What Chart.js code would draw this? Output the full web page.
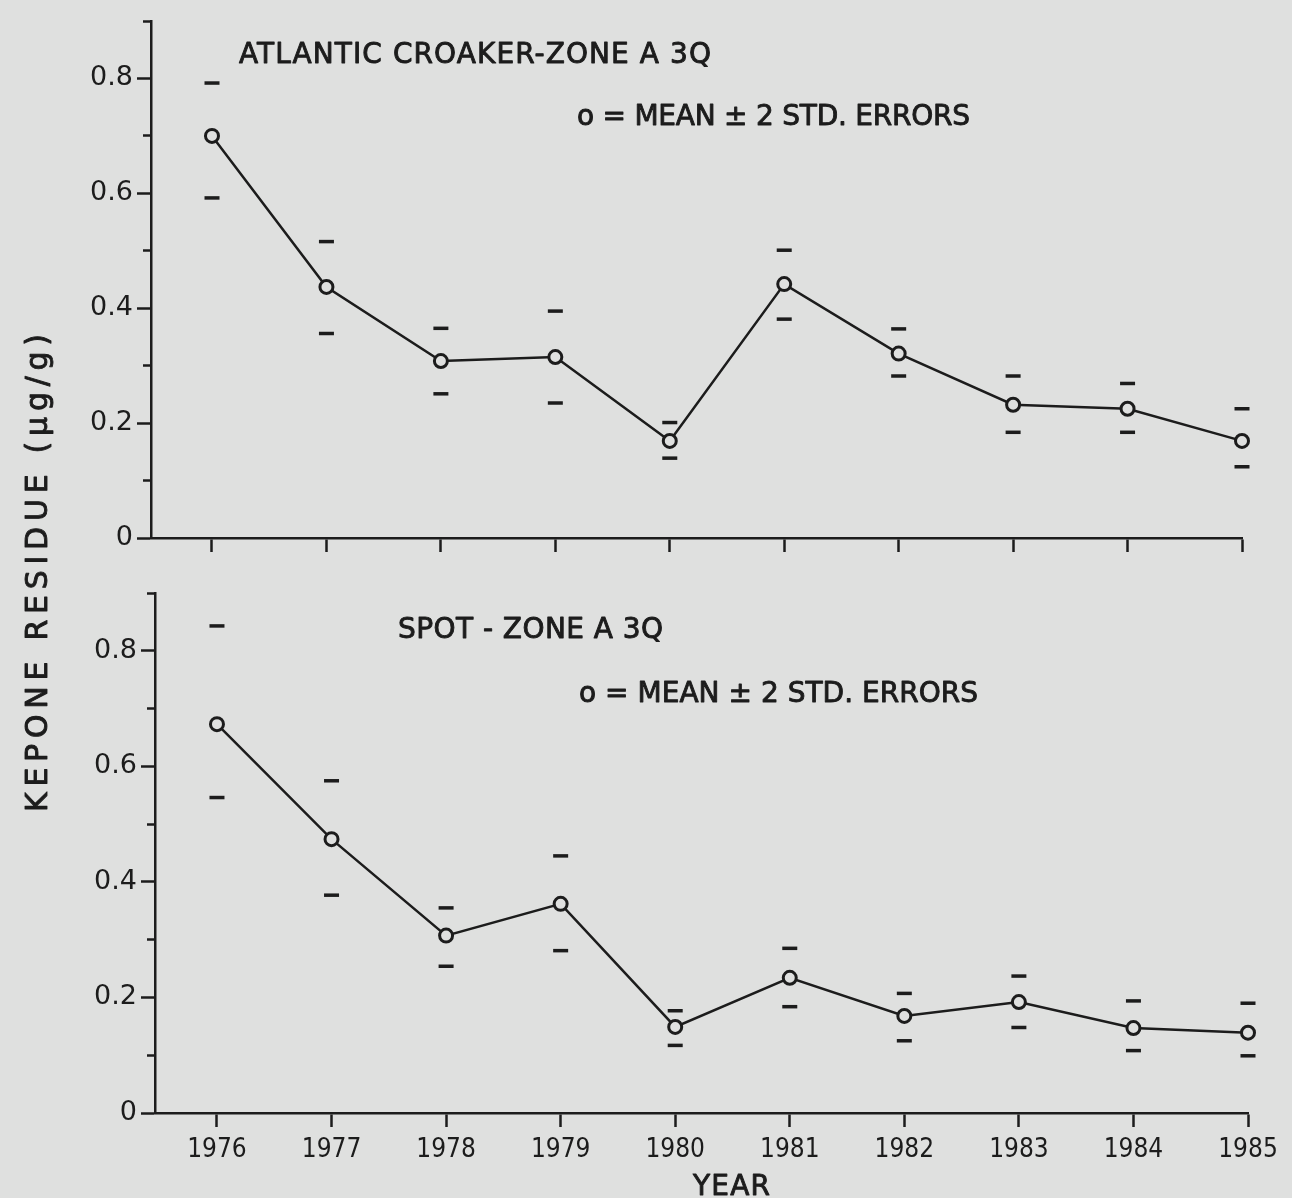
<!DOCTYPE html>
<html>
<head>
<meta charset="utf-8">
<script src="https://cdn.jsdelivr.net/npm/chart.js@4.4.1/dist/chart.umd.min.js"></script>
<style>
  html, body { margin: 0; padding: 0; background: #dfe0df; }
  #wrap { position: relative; width: 1292px; height: 1198px; }
  #wrap canvas { position: absolute; left: 0; top: 0; }
</style>
</head>
<body>
<div id="wrap">
  <canvas id="topChart" width="1292" height="1198"></canvas>
  <canvas id="bottomChart" width="1292" height="1198"></canvas>
</div>
<script>
// --- data ---
const years = [1976, 1977, 1978, 1979, 1980, 1981, 1982, 1983, 1984, 1985];

// Atlantic croaker, zone A 3Q (mean and mean +/- 2 std. errors)
const croakerMean  = [0.700, 0.437, 0.308, 0.315, 0.169, 0.442, 0.321, 0.232, 0.225, 0.169];
const croakerUpper = [0.792, 0.516, 0.365, 0.395, 0.201, 0.501, 0.364, 0.282, 0.269, 0.225];
const croakerLower = [0.592, 0.356, 0.251, 0.235, 0.139, 0.381, 0.282, 0.184, 0.184, 0.124];

// Spot, zone A 3Q
const spotMean  = [0.673, 0.474, 0.307, 0.362, 0.149, 0.234, 0.168, 0.192, 0.147, 0.139];
const spotUpper = [0.843, 0.575, 0.355, 0.445, 0.177, 0.285, 0.207, 0.237, 0.194, 0.190];
const spotLower = [0.546, 0.377, 0.254, 0.281, 0.117, 0.184, 0.125, 0.148, 0.108, 0.099];

// y axis: tick every 0.1, label every 0.2
const yTickValues = [0, 0.1, 0.2, 0.3, 0.4, 0.5, 0.6, 0.7, 0.8, 0.9];
const yTickLabels = ['0', '', '0.2', '', '0.4', '', '0.6', '', '0.8', ''];

const INK = '#1c1c1c';
const BG = '#dfe0df';
const FONT_FAMILY = "'DejaVu Sans', sans-serif";

// draws a text spread out to a given width (lettering of the original is wide and heavy)
function drawSpaced(ctx, t) {
    ctx.save();
    ctx.font = (t.size || 28) + "px 'DejaVu Sans', sans-serif";
    ctx.fillStyle = INK;
    ctx.strokeStyle = INK;
    ctx.lineWidth = 0.9;
    ctx.lineJoin = 'round';
    ctx.letterSpacing = '0px';
    const n = [...t.text].length;
    const w0 = ctx.measureText(t.text).width;
    ctx.letterSpacing = ((t.width - w0) / (n - 1)) + 'px';
    ctx.translate(t.x, t.y);
    if (t.rotate) ctx.rotate(t.rotate);
    ctx.textAlign = 'left';
    ctx.textBaseline = 'alphabetic';
    ctx.fillText(t.text, 0, 0);
    ctx.strokeText(t.text, 0, 0);
    ctx.restore();
}

const textPlugin = {
    id: 'panelText',
    afterDraw(chart, args, opts) {
        (opts.items || []).forEach(t => drawSpaced(chart.ctx, t));
    }
};

function toPoints(values) {
    return years.map((yr, i) => ({ x: yr, y: values[i] }));
}

// one panel = one chart on a full-page canvas, placed by layout padding
function makePanel(id, mean, upper, lower, p) {
    const barStyle = {
        showLine: false,
        pointStyle: 'line',
        pointRadius: 7.5,
        pointBorderWidth: 3.5,
        borderColor: INK,
        pointBorderColor: INK,
        clip: false
    };

    return new Chart(document.getElementById(id), {
        type: 'scatter',
        data: {
            datasets: [
                {
                    label: 'mean',
                    data: toPoints(mean),
                    showLine: true,
                    tension: 0,
                    borderColor: INK,
                    borderWidth: 2.5,
                    pointStyle: 'circle',
                    pointRadius: 6.5,
                    pointBorderWidth: 3,
                    pointBorderColor: INK,
                    pointBackgroundColor: BG,
                    clip: false,
                    order: 0
                },
                Object.assign({ label: '+2 SE', data: toPoints(upper), order: 1 }, barStyle),
                Object.assign({ label: '-2 SE', data: toPoints(lower), order: 1 }, barStyle)
            ]
        },
        options: {
            responsive: false,
            animation: false,
            devicePixelRatio: 1,
            events: [],
            layout: { padding: p.padding },
            plugins: {
                legend: { display: false },
                tooltip: { enabled: false },
                panelText: { items: p.texts }
            },
            scales: {
                x: {
                    type: 'linear',
                    min: p.xMin,
                    max: 1985,
                    afterBuildTicks: s => { s.ticks = years.map(v => ({ value: v })); },
                    afterFit: s => { s.height = p.xHeight; },
                    border: { color: INK, width: 2.5 },
                    grid: {
                        drawOnChartArea: false,
                        tickLength: 14,
                        tickWidth: 2.5,
                        tickColor: INK
                    },
                    ticks: {
                        display: p.showYears,
                        color: INK,
                        padding: 8,
                        maxRotation: 0,
                        autoSkip: false,
                        font: { family: "'DejaVu Sans Condensed', 'DejaVu Sans', sans-serif", size: 26 },
                        callback: v => String(v)
                    }
                },
                y: {
                    type: 'linear',
                    min: 0,
                    max: 0.9,
                    afterBuildTicks: s => { s.ticks = yTickValues.map(v => ({ value: v })); },
                    afterFit: s => { s.width = p.yWidth; },
                    border: { color: INK, width: 2.5 },
                    grid: {
                        drawOnChartArea: false,
                        tickLength: 14,
                        tickWidth: 2.5,
                        tickColor: INK,
                        // minor ticks are shorter: only the inner part is drawn
                        tickBorderDash: c => (c.index % 2 ? [8, 6] : []),
                        tickBorderDashOffset: c => (c.index % 2 ? 8 : 0)
                    },
                    ticks: {
                        color: INK,
                        padding: 4,
                        autoSkip: false,
                        font: { family: FONT_FAMILY, size: 27 },
                        callback: (v, i) => yTickLabels[i]
                    }
                }
            }
        },
        plugins: [textPlugin]
    });
}

// Upper panel
makePanel('topChart', croakerMean, croakerUpper, croakerLower, {
    padding: { left: 0, right: 50, top: 21, bottom: 644 },
    xMin: 1975.467,
    xHeight: 16,
    yWidth: 151,
    showYears: false,
    texts: [
        { text: 'ATLANTIC CROAKER-ZONE A 3Q', x: 239, y: 63, width: 472 },
        { text: 'o = MEAN ± 2 STD. ERRORS', x: 577, y: 125, width: 393 },
        { text: 'KEPONE RESIDUE (µg/g)', x: 47, y: 812, width: 478, size: 30, rotate: -Math.PI / 2 }
    ]
});

// Lower panel
makePanel('bottomChart', spotMean, spotUpper, spotLower, {
    padding: { left: 0, right: 44, top: 593, bottom: 35 },
    xMin: 1975.459,
    xHeight: 50,
    yWidth: 155,
    showYears: true,
    texts: [
        { text: 'SPOT - ZONE A 3Q', x: 398, y: 638, width: 265 },
        { text: 'o = MEAN ± 2 STD. ERRORS', x: 579, y: 702, width: 399 },
        { text: 'YEAR', x: 693, y: 1195, width: 77 }
    ]
});
</script>
</body>
</html>
